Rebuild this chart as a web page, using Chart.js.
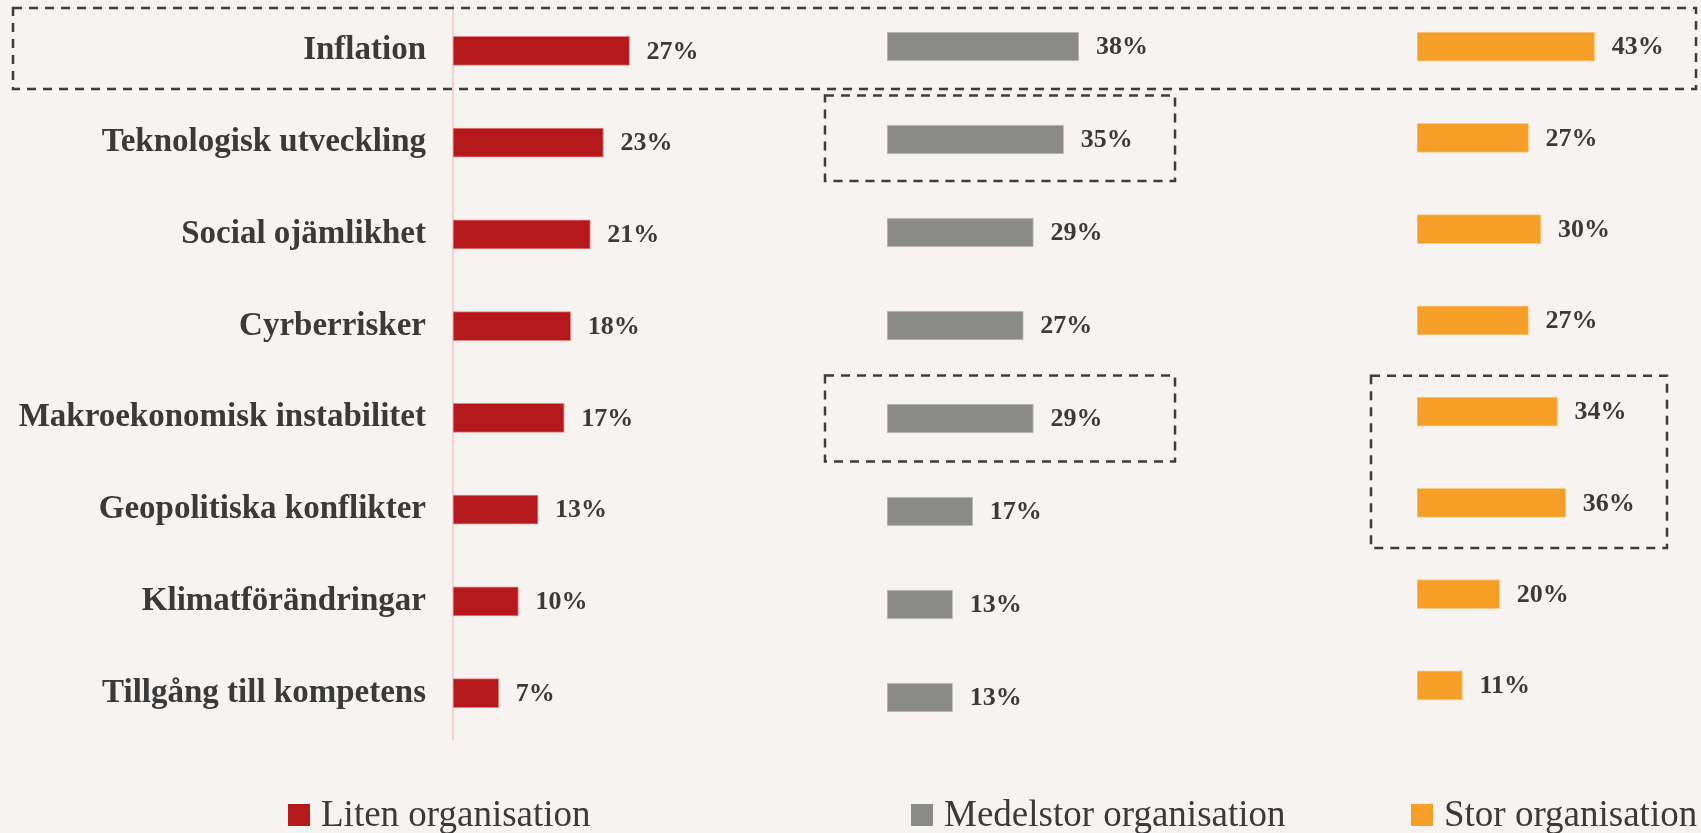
<!DOCTYPE html>
<html>
<head>
<meta charset="utf-8">
<script src="https://cdn.jsdelivr.net/npm/chart.js@4.4.1/dist/chart.umd.min.js"></script>
<style>
  html, body { margin: 0; padding: 0; background: #f6f3f0; overflow: hidden; }
  #wrap { position: relative; width: 1701px; height: 833px; }
  #wrap canvas { position: absolute; left: 0; top: 0; }
</style>
</head>
<body>
<div id="wrap">
  <canvas id="liten" width="1701" height="833"></canvas>
  <canvas id="medelstor" width="1701" height="833"></canvas>
  <canvas id="stor" width="1701" height="833"></canvas>
</div>
<script>
const categories = [
  'Inflation',
  'Teknologisk utveckling',
  'Social ojämlikhet',
  'Cyrberrisker',
  'Makroekonomisk instabilitet',
  'Geopolitiska konflikter',
  'Klimatförändringar',
  'Tillgång till kompetens'
];
const seriesNames = ['Liten organisation', 'Medelstor organisation', 'Stor organisation'];
const litenValues = [27, 23, 21, 18, 17, 13, 10, 7];
const medelstorValues = [38, 35, 29, 27, 29, 17, 13, 13];
const storValues = [43, 27, 30, 27, 34, 36, 20, 11];

const TEXT = '#3a3a3a';
const SERIF = '"Liberation Serif", "DejaVu Serif", serif';

// draws "NN%" after each bar
const valueLabels = {
  id: 'valueLabels',
  afterDatasetsDraw(chart) {
    const ctx = chart.ctx;
    const ds = chart.data.datasets[0];
    ctx.save();
    ctx.font = 'bold 26px ' + SERIF;
    ctx.fillStyle = TEXT;
    ctx.textBaseline = 'middle';
    chart.getDatasetMeta(0).data.forEach((bar, i) => {
      ctx.fillText(ds.data[i] + '%', bar.x + 17, bar.y + 1);
    });
    ctx.restore();
  }
};

// dashed highlight rectangles around some rows
const dashedBoxes = {
  id: 'dashedBoxes',
  afterDraw(chart, args, opts) {
    const ctx = chart.ctx;
    const y = chart.scales.y;
    const area = chart.chartArea;
    ctx.save();
    ctx.strokeStyle = '#3d3d3d';
    ctx.lineWidth = 2.5;
    ctx.setLineDash([9, 7]);
    (opts.boxes || []).forEach(b => {
      const top = y.getPixelForValue(categories.indexOf(b.first)) - b.above;
      const bottom = y.getPixelForValue(categories.indexOf(b.last)) + b.below;
      const left = b.absLeft !== undefined ? b.absLeft : area.left + b.left;
      const right = b.absRight !== undefined ? b.absRight : area.left + b.right;
      ctx.strokeRect(left, top, right - left, bottom - top);
    });
    ctx.restore();
  }
};

// one legend item per panel, along the bottom
const bottomLegend = {
  id: 'bottomLegend',
  afterDraw(chart, args, opts) {
    const ctx = chart.ctx;
    const ds = chart.data.datasets[0];
    ctx.save();
    ctx.fillStyle = ds.backgroundColor;
    ctx.fillRect(opts.x, opts.baseline - 22, 22, 22);
    ctx.font = '37px ' + SERIF;
    ctx.fillStyle = TEXT;
    ctx.textBaseline = 'alphabetic';
    ctx.fillText(ds.label, opts.x + 33, opts.baseline);
    ctx.restore();
  }
};

function makePanel(id, label, values, color, borderColor, xMax, padding, showCategories, boxes, legendX) {
  return new Chart(document.getElementById(id), {
    type: 'bar',
    data: {
      labels: categories,
      datasets: [{
        label: label,
        data: values,
        backgroundColor: color,
        borderColor: borderColor,
        borderWidth: 1,
        borderSkipped: false,
        barThickness: 29
      }]
    },
    options: {
      indexAxis: 'y',
      responsive: false,
      animation: false,
      layout: { padding: padding },
      plugins: {
        legend: { display: false },
        tooltip: { enabled: false },
        dashedBoxes: { boxes: boxes },
        bottomLegend: { x: legendX, baseline: 826 }
      },
      scales: {
        x: { display: false, min: 0, max: xMax },
        y: {
          display: showCategories,
          afterFit: s => {
            if (!showCategories) return;
            s.width = 453;
            s.paddingTop = 0;
            s.paddingBottom = 0;
          },
          grid: { display: false, drawTicks: false },
          border: { display: true, color: '#f5d2d2', width: 2 },
          ticks: {
            padding: 27,
            color: TEXT,
            font: { family: SERIF, size: 33, weight: 'bold' }
          }
        }
      }
    },
    plugins: [valueLabels, dashedBoxes, bottomLegend]
  });
}

makePanel('liten', seriesNames[0], litenValues, '#b5191b', '#e38585', 50,
  { left: 0, right: 1701 - 780, top: 5, bottom: 833 - 739 }, true,
  [{ first: 'Inflation', last: 'Inflation', above: 43, below: 38, absLeft: 13, absRight: 1696 }],
  288);

makePanel('medelstor', seriesNames[1], medelstorValues, '#8a8a88', '#c4c4c2', 80,
  { left: 887, right: 1701 - 1291, top: 0, bottom: 833 - 744 }, false,
  [
    { first: 'Teknologisk utveckling', last: 'Teknologisk utveckling', above: 44, below: 41.5, left: -62, right: 288 },
    { first: 'Makroekonomisk instabilitet', last: 'Makroekonomisk instabilitet', above: 43, below: 43, left: -62, right: 288 }
  ],
  911);

makePanel('stor', seriesNames[2], storValues, '#f59f28', '#f8c98a', 60,
  { left: 1417, right: 1701 - 1665, top: 1, bottom: 833 - 731 }, false,
  [{ first: 'Makroekonomisk instabilitet', last: 'Geopolitiska konflikter', above: 36, below: 45, left: -46, right: 250 }],
  1411);
</script>
</body>
</html>
